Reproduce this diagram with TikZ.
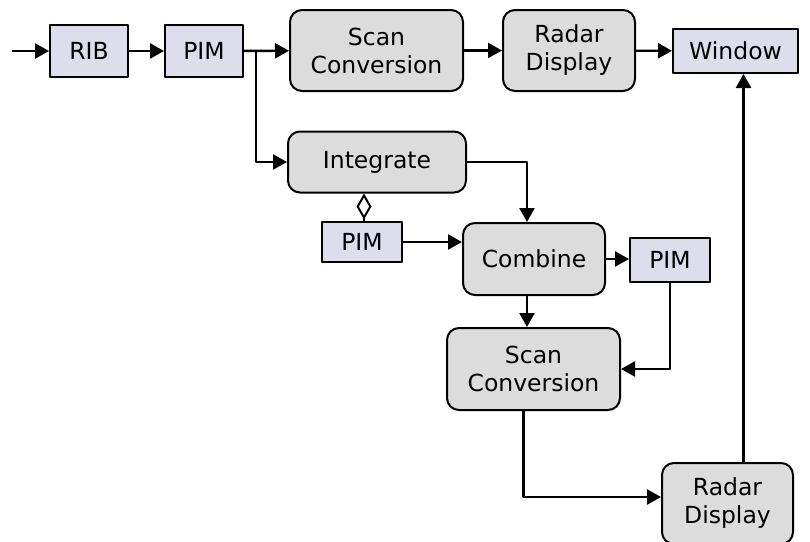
\documentclass[tikz,border=0pt]{standalone}
\usepackage{fontspec}
\setmainfont{DejaVu Sans}
\usetikzlibrary{arrows.meta}
\definecolor{boxgray}{RGB}{220,220,220}
\definecolor{boxblue}{RGB}{221,221,236}

\begin{document}
\begin{tikzpicture}[x=1pt,y=-1pt,line join=round,
  font=\fontsize{23.5}{28}\selectfont,
  proc/.style={draw, line width=2pt, fill=boxgray, rounded corners=12pt, align=center, inner sep=0pt},
  buf/.style={draw, line width=2pt, fill=boxblue, inner sep=0pt},
  arr/.style={line width=2.4pt, -{Triangle[length=14pt,width=15pt]}}]
\useasboundingbox (0,0) rectangle (810,541);
\clip (0,0) rectangle (810,541);
% top row
\node[buf, minimum width=78pt, minimum height=52pt] (rib) at (89,51) {RIB};
\node[buf, minimum width=78pt, minimum height=52pt] (pim1) at (204,51) {PIM};
\node[proc, minimum width=173pt, minimum height=81pt] (scan1) at (376.5,50.5) {Scan\\Conversion};
\node[proc, minimum width=132pt, minimum height=81pt] (radar1) at (569,50.5) {Radar\\Display};
\node[buf, minimum width=125pt, minimum height=44pt] (window) at (735.5,51) {Window};
% integration branch
\node[proc, minimum width=178pt, minimum height=61pt] (integ) at (377,162) {Integrate};
\node[buf, minimum width=80pt, minimum height=40pt] (pim2) at (362,242) {PIM};
\node[proc, minimum width=142pt, minimum height=72pt] (combine) at (534,259) {Combine};
\node[buf, minimum width=80pt, minimum height=44pt] (pim3) at (670,260) {PIM};
\node[proc, minimum width=173pt, minimum height=82pt] (scan2) at (533.5,369) {Scan\\Conversion};
\node[proc, minimum width=131pt, minimum height=81pt] (radar2) at (727.5,503.5) {Radar\\Display};
% connectors
\coordinate (in) at (12,51);
\coordinate (split) at (256,51);
\draw[arr] (in) -- (rib);
\draw[arr] (rib) -- (pim1);
\draw[arr] (pim1) -- (scan1);
\draw[arr] (scan1) -- (radar1);
\draw[arr] (radar1) -- (window);
\draw[arr] (split) |- (integ);
\draw[arr] (integ) -| ([xshift=-7pt]combine.north);
\draw[line width=2.4pt, -{Diamond[open,length=26pt,width=15pt,line width=2pt]}] ([xshift=2pt]pim2.north) -- ([xshift=2pt]pim2.north |- integ.south);
\draw[arr] (pim2) -- (pim2 -| combine.west);
\draw[arr] (combine.east) -- (combine.east -| pim3.west);
\draw[arr] ([xshift=-7pt]combine.south) -- ([xshift=-7pt]combine.south |- scan2.north);
\draw[arr] (pim3) |- (scan2);
\draw[arr] ([xshift=-10pt]scan2.south) |- ([yshift=6.5pt]radar2.west);
\draw[arr] ([xshift=16pt]radar2.north) -- ([xshift=16pt]radar2.north |- window.south);
\end{tikzpicture}
\end{document}
